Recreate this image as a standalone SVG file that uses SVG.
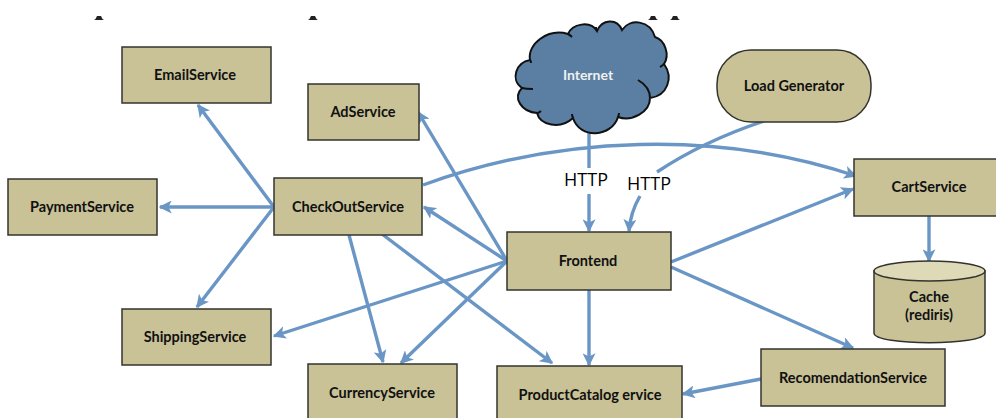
<svg xmlns="http://www.w3.org/2000/svg" width="996" height="418" viewBox="0 0 996 418">
<style>
.b{fill:#c9c297;stroke:#33332e;stroke-width:1.5}
.t{font-family:Lato,"Liberation Sans",sans-serif;font-weight:700;font-size:14.5px;fill:#111;text-anchor:middle}
.h{font-family:"Open Sans","Liberation Sans",sans-serif;font-size:18px;fill:#000;text-anchor:middle}
.c{fill:none;stroke:#6a96c6;stroke-width:3.4}
</style>
<defs>
<marker id="a" markerUnits="userSpaceOnUse" viewBox="0 0 10 10" refX="9" refY="5" markerWidth="13" markerHeight="13" orient="auto"><path d="M0 0L10 5L0 10L2.5 5Z" fill="#6a96c6"/></marker>
</defs>
<g id="clipped-text" fill="#222">
<path d="M94 20Q96 19 97 16H101Q102 19 104 20Z"/><path d="M308 20Q310 19 311 16H315Q316 19 318 20Z"/><path d="M648 20Q650 19 651 16H655Q656 19 658 20Z"/><path d="M670 20Q672 19 673 16H677Q678 19 680 20Z"/>
</g>
<g id="connectors">
<path class="c" marker-end="url(#a)" d="M274 207L198 105"/>
<path class="c" marker-end="url(#a)" d="M274 207H160"/>
<path class="c" marker-end="url(#a)" d="M274 207L197 307"/>
<path class="c" marker-end="url(#a)" d="M423 185C560 135 720 130 856 176"/>
<path class="c" marker-end="url(#a)" d="M349 235L383 362"/>
<path class="c" marker-end="url(#a)" d="M382 234L552 363"/>
<path class="c" marker-end="url(#a)" d="M507 261L418 112"/>
<path class="c" marker-end="url(#a)" d="M507 261L424 207"/>
<path class="c" marker-end="url(#a)" d="M507 261L274 336"/>
<path class="c" marker-end="url(#a)" d="M507 261L401 363"/>
<path class="c" marker-end="url(#a)" d="M589 290V365"/>
<path class="c" marker-end="url(#a)" d="M671 262L853 189"/>
<path class="c" marker-end="url(#a)" d="M671 267L853 348"/>
<path class="c" marker-end="url(#a)" d="M761 379L683 394"/>
<path class="c" marker-end="url(#a)" d="M929 216V261"/>
<path class="c" d="M589 132V168"/>
<path class="c" marker-end="url(#a)" d="M589 194V231"/>
<path class="c" d="M764 121C725 134 690 150 657 172"/>
<path class="c" marker-end="url(#a)" d="M640 196C633 208 630 218 629 231"/>
</g>
<g id="node-email"><rect class="b" x="122" y="47" width="149" height="56"/><text class="t" x="195" y="80">EmailService</text></g>
<g id="node-ad"><rect class="b" x="308" y="84" width="111" height="56"/><text class="t" x="363" y="117">AdService</text></g>
<g id="node-payment"><rect class="b" x="8" y="179" width="149" height="56"/><text class="t" x="82" y="212">PaymentService</text></g>
<g id="node-checkout"><rect class="b" x="274" y="178" width="148" height="57"/><text class="t" x="348" y="212">CheckOutService</text></g>
<g id="node-shipping"><rect class="b" x="122" y="309" width="149" height="56"/><text class="t" x="195" y="342">ShippingService</text></g>
<g id="node-currency"><rect class="b" x="308" y="364" width="149" height="56"/><text class="t" x="382" y="398">CurrencyService</text></g>
<g id="node-frontend"><rect class="b" x="507" y="232" width="164" height="58"/><text class="t" x="588" y="266">Frontend</text></g>
<g id="node-catalog"><rect class="b" x="497" y="366" width="185" height="56"/><text class="t" x="590" y="400">ProductCatalog ervice</text></g>
<g id="node-recommendation"><rect class="b" x="761" y="349" width="184" height="57"/><text class="t" x="853" y="383">RecomendationService</text></g>
<g id="node-cart"><rect class="b" x="854" y="159" width="144" height="57"/><text class="t" x="929" y="192">CartService</text></g>
<g id="node-cache">
<path class="b" d="M874 271V333C874 346 985 346 985 333V271Z"/>
<ellipse cx="929.500" cy="271" rx="55.500" ry="10" fill="#ded9b6" stroke="#33332e" stroke-width="1.500"/>
<text class="t" x="929" y="302">Cache</text><text class="t" x="929" y="320">(rediris)</text>
</g>
<g id="node-load"><rect class="b" x="717" y="50" width="154" height="72" rx="34" ry="34"/><text class="t" x="794" y="91">Load Generator</text></g>
<g id="node-internet">
<path d="M530 60C527 44 548 28 568 34C572 24 590 20 597 31C602 19 617 18 622 30C630 18 650 20 655 37C665 40 670 55 664 64C674 78 667 96 650 98C650 112 632 122 618 117C612 137 580 140 573 118C560 130 540 125 537 113C522 112 512 98 522 88C510 80 516 62 530 60Z" fill="#5a7fa3" stroke="#111" stroke-width="2"/>
<path d="M638 80C645 84 650 90 650 98M522 88C526 89 530 89 533 89M537 113C539 113 540 112 541 111M573 118C572 116 572 115 572 114M618 117C619 115 619 114 619 113M597 31C596 29 596 28 596 27M568 34C570 35 571 36 572 37M664 64C663 65 662 66 660 67M530 60C531 61 531 62 531 63" fill="none" stroke="#111" stroke-width="2"/>
<text x="588" y="80" font-family="Lato,Liberation Sans,sans-serif" font-weight="700" font-size="14" fill="#f0f0f0" text-anchor="middle">Internet</text>
</g>
<text class="h" x="586" y="186">HTTP</text>
<text class="h" x="649" y="190">HTTP</text>
</svg>
